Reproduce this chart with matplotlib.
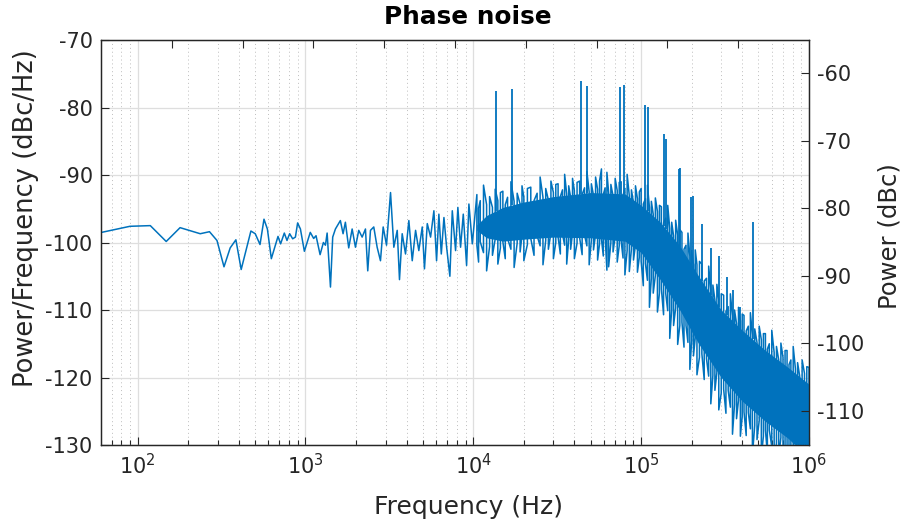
import numpy as np
import matplotlib
matplotlib.use('Agg')
import matplotlib.pyplot as plt
from matplotlib.ticker import LogLocator, NullFormatter, FixedLocator

plt.rcParams['font.family'] = ['DejaVu Sans']
plt.rcParams['axes.unicode_minus'] = False

# ---------------- data ----------------
# resolved part of the trace (Hz, dBc/Hz)
low_freq = [61, 90, 119, 148, 179, 236, 268, 297, 327, 356, 385, 414, 473, 502, 536,
            566, 593, 626, 686, 711, 748, 776, 805, 839, 871, 898, 933, 985, 1068,
            1119, 1156, 1222, 1279, 1315, 1346, 1409, 1453, 1508, 1614, 1675, 1729,
            1810, 1897, 1985, 2077, 2176, 2277, 2350, 2439, 2552, 2673, 2798, 2904,
            3040, 3212, 3361, 3521, 3632, 3769, 3945, 4130, 4326, 4529, 4735, 4963,
            5117, 5317, 5564, 5823, 6040, 6235, 6445, 6683, 6934, 7251, 7494, 7840,
            8090, 8397, 8713, 9119, 9413, 9862]
low_psd = [-98.5, -97.6, -97.5, -99.85, -97.8, -98.7, -98.4, -99.7, -103.6, -100.8,
           -99.6, -104.0, -98.3, -98.7, -100.3, -96.55, -98.0, -102.4, -99.1, -100.2,
           -98.6, -99.7, -98.7, -99.45, -99.2, -97.1, -98.0, -101.3, -98.5, -99.4,
           -99.0, -101.8, -100.0, -100.4, -98.6, -106.6, -99.2, -98.0, -96.75, -98.7,
           -97.0, -100.8, -98.0, -100.7, -98.2, -99.2, -98.0, -104.2, -98.2, -97.7,
           -100.7, -102.7, -97.7, -100.4, -92.6, -100.7, -98.2, -105.5, -98.7, -101.7,
           -96.75, -102.7, -98.2, -101.2, -97.7, -103.9, -97.2, -99.2, -95.3, -102.7,
           -95.8, -101.7, -96.3, -100.7, -105.0, -95.3, -101.2, -94.8, -100.7, -95.8,
           -103.4, -94.3, -100.2]

# dense part: upper and lower excursions of the trace at each frequency
zig_freq = [10500, 10750, 11000, 11500, 12000, 12500, 13000, 13500, 14000, 14500,
            15000, 15500, 16000, 16750, 17500, 18250, 19000, 19500, 20000, 21000,
            22000, 23000, 24000, 25000, 26000, 27000, 28000, 29000, 30000, 31000,
            32000, 33000, 34000, 35000, 36000, 37000, 38000, 39000, 40000, 41500,
            43000, 44500, 46000, 47500, 49000, 50500, 52000, 53500, 55000, 56500,
            58000, 59500, 61000, 62500, 64000, 66000, 68000, 70000, 72000, 74000,
            76000, 78000, 80000, 82500, 85000, 87500, 90000, 92500, 95000, 97500,
            100000, 103000, 106000, 109000, 112000, 115000, 118000, 121500, 125000,
            128500, 132000, 136000, 140000, 144000, 148000, 152000, 156000, 160500,
            165000, 170000, 175000, 180000, 185000, 190000, 195000, 200000, 205000,
            210000, 215000, 222500, 230000, 237500, 245000, 252500, 260000, 267500,
            275000, 282500, 290000, 300000, 310000, 320000, 330000, 340000, 350000,
            360000, 370000, 380000, 390000, 400000, 410000, 422500, 435000, 447500,
            460000, 475000, 490000, 505000, 520000, 535000, 550000, 565000, 580000,
            600000, 620000, 640000, 660000, 680000, 700000, 720000, 740000, 760000,
            780000, 805000, 830000, 855000, 880000, 910000, 940000, 970000, 1000000]
zig_hi = [-92.9, -94.9, -93.8, -91.5, -94.4, -93.2, -94.8, -92.1, -93.8, -92.6,
          -92.4, -94.4, -93.3, -91.0, -93.9, -92.7, -94.3, -91.6, -93.3, -92.0,
          -91.8, -93.8, -92.7, -90.3, -93.3, -92.0, -93.7, -90.9, -92.6, -91.4,
          -91.3, -93.2, -92.2, -89.9, -92.8, -91.6, -93.3, -90.5, -92.3, -91.1,
          -90.9, -92.9, -91.9, -89.5, -92.5, -91.3, -93.0, -90.3, -92.1, -90.9,
          -89.1, -92.9, -91.9, -89.6, -92.6, -91.4, -93.1, -90.5, -92.3, -91.1,
          -91.0, -93.0, -92.0, -89.9, -93.1, -92.2, -94.1, -91.6, -93.5, -92.5,
          -92.0, -94.3, -93.5, -91.5, -94.8, -93.9, -95.8, -93.4, -95.4,
          -94.5, -94.7, -97.1, -96.4, -94.5, -97.9, -97.0, -99.0, -96.7,
          -98.9, -98.1, -98.5, -101.0, -100.4, -98.6, -102.0, -101.2, -103.3,
          -101.1, -103.3, -102.8, -103.2, -105.7, -105.3, -103.5, -107.0, -106.3,
          -108.5, -106.2, -108.4, -107.6, -107.8, -110.2, -109.5, -107.6, -110.9,
          -110.0, -112.0, -109.6, -111.6, -110.6, -110.8, -113.1, -112.4, -110.4,
          -113.7, -112.8, -114.8, -112.4, -114.4, -113.5, -113.5, -115.8, -115.0,
          -113.0, -116.3, -115.4, -117.4, -114.9, -117.0, -116.0, -116.0, -118.1,
          -117.4, -115.4, -118.7, -117.8, -119.8, -117.4, -119.4, -118.4, -118.5]
zig_lo = [-100.4, -102.9, -99.9, -101.5, -104.2, -100.6, -101.9, -99.5, -103.2, -100.8,
          -99.9, -102.4, -99.4, -101.0, -103.7, -100.1, -101.4, -99.0, -102.7, -100.3,
          -99.4, -101.9, -99.0, -100.5, -103.3, -99.7, -101.0, -98.6, -102.4, -100.0,
          -99.2, -101.7, -98.8, -100.4, -103.2, -99.6, -101.0, -98.6, -102.4, -100.1,
          -99.3, -101.8, -98.9, -100.5, -103.3, -99.7, -101.1, -98.8, -102.6, -100.2,
          -99.5, -102.0, -99.1, -104.1, -103.6, -100.0, -101.4, -99.1, -102.9, -100.5,
          -99.8, -102.3, -104.8, -101.2, -104.3, -101.0, -102.6, -100.4, -104.4, -102.2,
          -102.8, -106.4, -103.1, -105.6, -109.6, -105.3, -107.5, -104.9, -110.3,
          -107.5, -106.9, -110.7, -107.5, -110.1, -114.2, -110.0, -112.3, -109.7,
          -115.1, -112.3, -111.8, -115.5, -112.3, -114.8, -118.8, -114.6, -116.8,
          -114.1, -119.6, -117.0, -116.5, -120.3, -117.2, -119.8, -123.9, -119.7,
          -121.9, -119.3, -124.8, -122.3, -121.7, -125.3, -121.9, -124.4, -128.4,
          -124.0, -126.1, -123.4, -128.7, -125.8, -125.1, -128.6, -125.2, -127.6,
          -131.5, -127.1, -129.2, -126.4, -131.7, -128.7, -127.8, -131.3, -127.8,
          -130.2, -134.1, -129.7, -131.8, -128.9, -134.1, -131.1, -130.3, -133.6,
          -130.2, -132.6, -136.5, -132.1, -134.3, -131.5, -136.9, -134.0, -133.3]

# solid core of the dense band
band_freq = [10500, 12000, 15000, 20000, 30000, 50000, 80000, 100000, 130000, 170000,
             220000, 300000, 400000, 550000, 750000, 1000000]
band_top = [-97.4, -96.0, -94.8, -94.0, -93.2, -92.6, -92.8, -94.5, -97.0, -100.5,
            -105.0, -110.0, -113.0, -116.0, -118.5, -121.0]
band_bot = [-98.2, -99.3, -99.8, -99.5, -99.2, -99.3, -99.8, -101.5, -105.5, -110.0,
            -115.0, -120.0, -123.5, -126.5, -129.0, -132.0]

# discrete spurs
spur_freq = [13700, 16900, 44000, 47400, 75000, 78500, 105700, 109200, 136000, 140000,
             168700, 171000, 198000, 203000, 230000, 260500, 292000, 323000, 354000,
             388000, 462000]
spur_psd = [-77.6, -77.3, -76.0, -76.8, -77.0, -76.7, -79.65, -79.9, -83.9, -84.7,
            -89.1, -88.96, -93.3, -93.05, -97.2, -100.8, -102.0, -105.1, -107.1,
            -109.6, -97.0]

left_ticks = [-130, -120, -110, -100, -90, -80, -70]
right_ticks = [-110, -100, -90, -80, -70, -60]
x_ticks = [1e2, 1e3, 1e4, 1e5, 1e6]
top_ticks = [0.1, 0.2, 0.3, 0.4, 0.5, 0.6, 0.7, 0.8, 0.9]

# ---------------- drawing ----------------
blue = '#0072BD'
dark = '#262626'
W, H = 905, 526
fig = plt.figure(figsize=(W / 100, H / 100), dpi=100)
pos = [101 / W, 1 - 445 / H, 708 / W, 405 / H]
ax = fig.add_axes(pos)

trace_f = list(low_freq)
trace_v = list(low_psd)
for i, (f, hi, lo) in enumerate(zip(zig_freq, zig_hi, zig_lo)):
    trace_f += [f, f]
    trace_v += [hi, lo] if i % 2 == 0 else [lo, hi]

ax.fill_between(band_freq, band_bot, band_top, color=blue, lw=0, zorder=2)
ax.plot(trace_f, trace_v, color=blue, lw=1.1, zorder=3)
lf = np.log10(spur_freq)
base = np.interp(lf, np.log10(band_freq), band_top)
ax.vlines(spur_freq, base, spur_psd, color=blue, lw=1.3, zorder=3)

ax.set_xscale('log')
ax.set_xlim(60.5, 1e6)
ax.set_ylim(-130, -70)
ax.set_xticks(x_ticks)
ax.xaxis.set_minor_locator(LogLocator(base=10, subs=np.arange(2, 10)))
ax.xaxis.set_minor_formatter(NullFormatter())
ax.yaxis.set_major_locator(FixedLocator(left_ticks))
ax.set_yticklabels([str(t) for t in left_ticks])

ax.grid(True, which='major', axis='both', color='#dedede', lw=0.9, zorder=0)
ax.grid(True, which='minor', axis='x', color='#bdbdbd', lw=0.7, ls=(0, (1, 3)), zorder=0)
ax.set_axisbelow(True)

ax.tick_params(which='both', direction='in', top=False, right=False,
               color=dark, labelcolor=dark, labelsize=15, width=0.8)
ax.tick_params(which='major', length=6, pad=6)
ax.tick_params(which='minor', length=3.5)
for s in ax.spines.values():
    s.set_color(dark)
    s.set_linewidth(0.9)

ax2 = fig.add_axes(pos, zorder=5)
ax2.patch.set_visible(False)
ax2.set_xlim(0, 1)
ax2.set_ylim(-130 + 14.9, -70 + 14.9)
ax2.set_xticks(top_ticks)
ax2.set_xticklabels([])
ax2.xaxis.tick_top()
ax2.yaxis.tick_right()
ax2.set_yticks(right_ticks)
ax2.set_yticklabels([str(t) for t in right_ticks])
ax2.tick_params(direction='in', length=6, width=0.8, color=dark, labelcolor=dark,
                labelsize=15, pad=6)
for s in ax2.spines.values():
    s.set_color(dark)
    s.set_linewidth(0.9)

fig.text(468 / W, 1 - 17 / H, 'Phase noise', ha='center', va='center',
         fontsize=17.8, fontweight='bold', color='black')
fig.text(468 / W, 1 - 507 / H, 'Frequency (Hz)', ha='center', va='center',
         fontsize=18, color=dark)
fig.text(26 / W, 1 - 218 / H, 'Power/Frequency (dBc/Hz)', ha='center', va='center',
         rotation=90, fontsize=18.5, color=dark)
fig.text(889 / W, 1 - 236 / H, 'Power (dBc)', ha='center', va='center',
         rotation=90, fontsize=17.5, color=dark)

fig.savefig('out.png', dpi=100)
